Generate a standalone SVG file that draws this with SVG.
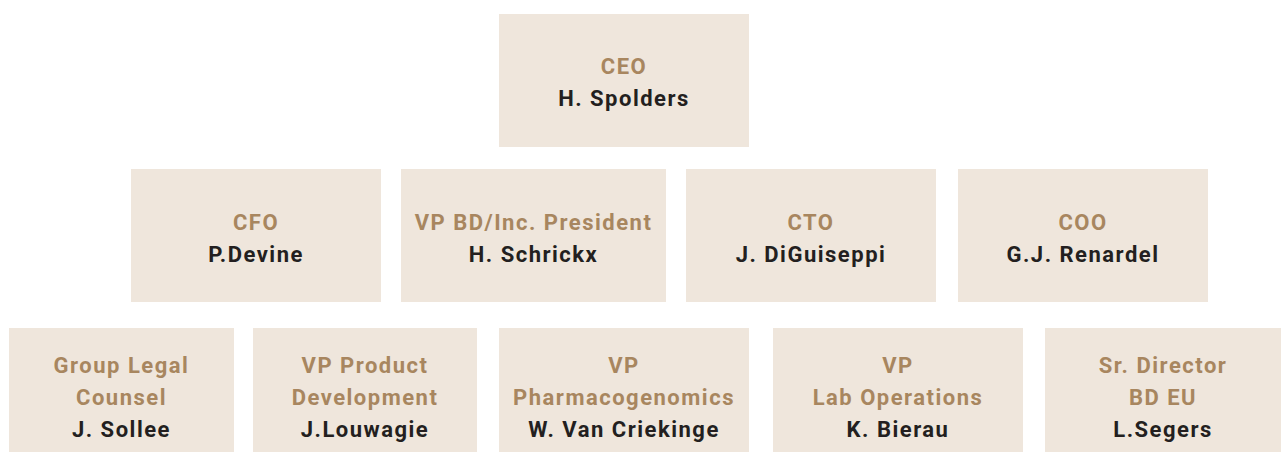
<svg xmlns="http://www.w3.org/2000/svg" width="1281" height="453" viewBox="0 0 1281 453">
<style>
.box{fill:#efe6dc}
text{font-family:Roboto,"Liberation Sans",sans-serif;font-weight:bold;font-size:22px;text-anchor:middle;letter-spacing:1.5px}
.t{fill:#a8865f}
.n{fill:#231f20}
</style>
<rect width="1281" height="453" fill="#ffffff"/>
<g id="connectors"></g>
<g id="ceo"><rect class="box" x="499" y="14" width="250" height="133"/><text class="t" x="624" y="74">CEO</text><text class="n" x="624" y="106">H. Spolders</text></g>
<g id="cfo"><rect class="box" x="131" y="169" width="250" height="133"/><text class="t" x="256" y="230">CFO</text><text class="n" x="256" y="262">P.Devine</text></g>
<g id="vpbd"><rect class="box" x="401" y="169" width="265" height="133"/><text class="t" x="533.5" y="230">VP BD/Inc. President</text><text class="n" x="533.5" y="262">H. Schrickx</text></g>
<g id="cto"><rect class="box" x="686" y="169" width="250" height="133"/><text class="t" x="811" y="230">CTO</text><text class="n" x="811" y="262">J. DiGuiseppi</text></g>
<g id="coo"><rect class="box" x="958" y="169" width="250" height="133"/><text class="t" x="1083" y="230">COO</text><text class="n" x="1083" y="262">G.J. Renardel</text></g>
<g id="legal"><rect class="box" x="9" y="328" width="225" height="124"/><text class="t" x="121.5" y="373">Group Legal</text><text class="t" x="121.5" y="405">Counsel</text><text class="n" x="121.5" y="437">J. Sollee</text></g>
<g id="vppd"><rect class="box" x="253" y="328" width="224" height="124"/><text class="t" x="365" y="373">VP Product</text><text class="t" x="365" y="405">Development</text><text class="n" x="365" y="437">J.Louwagie</text></g>
<g id="vppg"><rect class="box" x="499" y="328" width="250" height="124"/><text class="t" x="624" y="373">VP</text><text class="t" x="624" y="405">Pharmacogenomics</text><text class="n" x="624" y="437">W. Van Criekinge</text></g>
<g id="vplab"><rect class="box" x="773" y="328" width="250" height="124"/><text class="t" x="898" y="373">VP</text><text class="t" x="898" y="405">Lab Operations</text><text class="n" x="898" y="437">K. Bierau</text></g>
<g id="srdir"><rect class="box" x="1045" y="328" width="236" height="124"/><text class="t" x="1163" y="373">Sr. Director</text><text class="t" x="1163" y="405">BD EU</text><text class="n" x="1163" y="437">L.Segers</text></g>
</svg>
